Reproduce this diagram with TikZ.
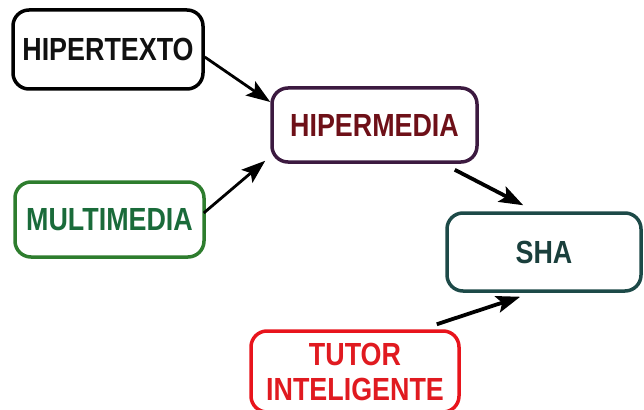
\documentclass[tikz,border=0pt]{standalone}
\usepackage{fontspec}
\newfontfamily\boxfont[FakeStretch=0.84]{Liberation Sans}
\usetikzlibrary{arrows.meta,calc}

\definecolor{txtblack}{HTML}{111111}
\definecolor{hmborder}{HTML}{3C1A40}
\definecolor{hmtext}{HTML}{6E1018}
\definecolor{mmborder}{HTML}{2E7D2E}
\definecolor{mmtext}{HTML}{1A6B3A}
\definecolor{shaborder}{HTML}{1D4A48}
\definecolor{shatext}{HTML}{1A3F3C}
\definecolor{tiborder}{HTML}{E8141C}
\definecolor{titext}{HTML}{E01A20}

\tikzset{
  concept/.style={draw, line width=3.5pt, rounded corners=16pt, inner sep=0pt,
    align=center, font=\boxfont\bfseries\fontsize{32}{35}\selectfont},
  link/.style={line width=2.8pt, -{Stealth[length=24pt,width=17pt,inset=5pt]}},
  heavylink/.style={link, line width=3.8pt},
}

\begin{document}
\begin{tikzpicture}[x=1pt, y=-1pt]
  \useasboundingbox (0,0) rectangle (644,409);

  % concept boxes
  \node[concept, draw=black, text=txtblack, minimum width=190pt, minimum height=79pt]
    (ht) at (108,49.5) {HIPERTEXTO};
  \node[concept, draw=hmborder, text=hmtext, minimum width=205pt, minimum height=74pt]
    (hm) at (374.5,125) {HIPERMEDIA};
  \node[concept, draw=mmborder, text=mmtext, minimum width=189pt, minimum height=75pt]
    (mm) at (109.5,219.5) {MULTIMEDIA};
  \node[concept, draw=shaborder, text=shatext, minimum width=194pt, minimum height=78pt]
    (sha) at (544,252) {SHA};
  \node[concept, draw=tiborder, text=titext, minimum width=208pt, minimum height=81pt]
    (ti) at (355,371.5) {TUTOR\\INTELIGENTE};

  % connections
  \draw[link] ($(ht.east)+(0,7.5)$) -- ($(hm.west)+(0,-23)$);
  \draw[link] ($(mm.east)+(-2,-6.5)$) -- ($(hm.south west)+(-5,-3)$);
  \draw[heavylink] ($(hm.south east)+(-24,6)$) -- ($(sha.north west)+(78,-6)$);
  \draw[heavylink] ($(ti.north east)+(-24,-5)$) -- ($(sha.south west)+(75,4)$);
\end{tikzpicture}
\end{document}
